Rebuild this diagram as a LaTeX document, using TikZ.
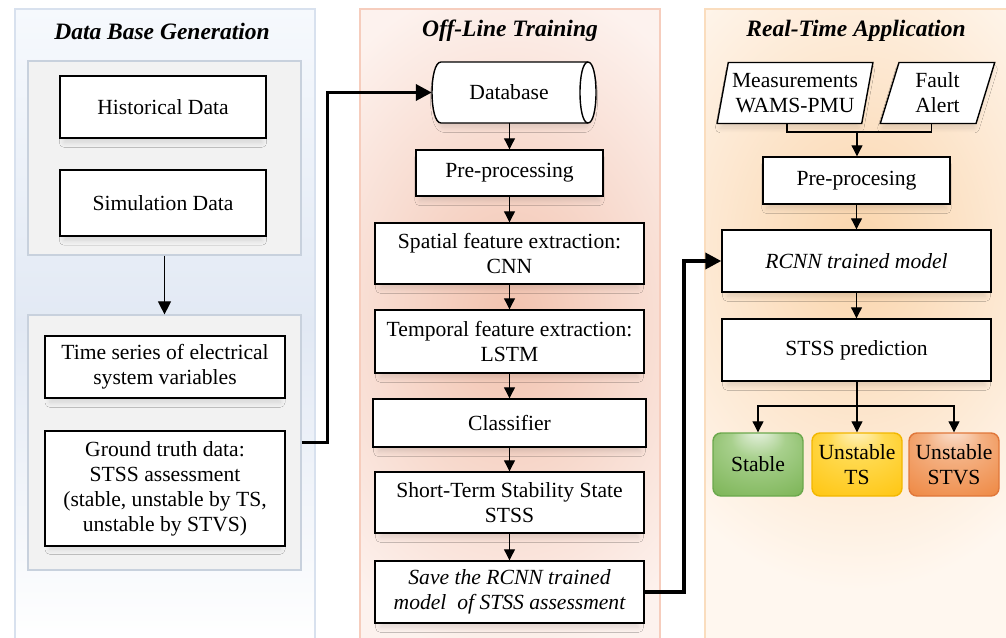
\documentclass[tikz,border=0pt]{standalone}
\usepackage{fontspec}
\setmainfont{Liberation Serif}
\usetikzlibrary{arrows.meta,shapes.geometric,shadows.blur,calc}

% panel and box colours
\definecolor{bluePanelTop}{HTML}{F6F9FD}
\definecolor{bluePanelMid}{HTML}{E2E9F4}
\definecolor{bluePanelEdge}{HTML}{D8E1EE}
\definecolor{pinkCore}{HTML}{F2C2AE}
\definecolor{pinkBase}{HTML}{FDF2EE}
\definecolor{pinkEdge}{HTML}{F6CDBD}
\definecolor{peachCore}{HTML}{FAD5AC}
\definecolor{peachBase}{HTML}{FFF7EF}
\definecolor{peachEdge}{HTML}{FADDBE}
\definecolor{grayFill}{HTML}{F2F2F2}
\definecolor{grayEdge}{HTML}{C8D1DD}
\definecolor{stableA}{HTML}{F0F6EC}
\definecolor{stableM}{HTML}{A8D08D}
\definecolor{stableB}{HTML}{70AD47}
\definecolor{stableEdge}{HTML}{6BA84C}
\definecolor{tsA}{HTML}{FFF5D0}
\definecolor{tsM}{HTML}{FFDA50}
\definecolor{tsB}{HTML}{FFC000}
\definecolor{tsEdge}{HTML}{F2B700}
\definecolor{stvsA}{HTML}{FBE5D6}
\definecolor{stvsM}{HTML}{F4B183}
\definecolor{stvsB}{HTML}{ED7D31}
\definecolor{stvsEdge}{HTML}{E0773A}

\pgfdeclareradialshading{glowstable}{\pgfpoint{0bp}{30bp}}{color(0bp)=(stableA); color(15bp)=(stableM); color(45bp)=(stableB)}
\pgfdeclareradialshading{glowts}{\pgfpoint{0bp}{30bp}}{color(0bp)=(tsA); color(15bp)=(tsM); color(45bp)=(tsB)}
\pgfdeclareradialshading{glowstvs}{\pgfpoint{0bp}{30bp}}{color(0bp)=(stvsA); color(15bp)=(stvsM); color(45bp)=(stvsB)}

\tikzset{
  bodytext/.style={font=\fontsize{21.6}{25}\selectfont, text=black, align=center},
  paneltitle/.style={font=\fontsize{23.5}{28}\selectfont\bfseries\itshape, text=black},
  softshadow/.style={blur shadow={shadow xshift=0pt, shadow yshift=-6pt, shadow scale=0.96, shadow blur radius=5pt, shadow blur steps=10, shadow opacity=12}},
  procbox/.style={bodytext, draw=black, line width=1.4pt, fill=white, inner sep=0pt, softshadow},
  groupbox/.style={draw=grayEdge, line width=1.2pt, fill=grayFill, inner sep=0pt},
  iobox/.style={bodytext, draw=black, line width=1.4pt, fill=white, inner sep=0pt,
    trapezium, trapezium left angle=75, trapezium right angle=105, trapezium stretches=true, softshadow},
  resultbox/.style={bodytext, rounded corners=8pt, line width=1.4pt, inner sep=0pt,
    minimum width=90pt, minimum height=63pt},
  flow/.style={draw=black, line width=1.1pt, -{Triangle[length=11pt,width=11pt]}},
  plainline/.style={draw=black, line width=1.1pt},
  bigflow/.style={draw=black, line width=3.6pt, -{Triangle[length=16pt,width=16pt]}},
}

\begin{document}
\begin{tikzpicture}[x=1pt, y=-1pt]
\useasboundingbox (0,0) rectangle (1006,637);
\fill[white] (0,0) rectangle (1006,637);

% ---- column backgrounds
\shade[top color=bluePanelTop, bottom color=white, middle color=bluePanelMid]
  (15,9) rectangle (315,642);
\draw[bluePanelEdge, line width=1.2pt] (15,642) -- (15,9) -- (315,9) -- (315,642);

\fill[pinkBase] (360,9) rectangle (660,642);
\begin{scope}
  \clip (360,9) rectangle (660,642);
  \shade[inner color=pinkCore, outer color=pinkBase] (510,320) ellipse [x radius=250, y radius=340];
\end{scope}
\draw[pinkEdge, line width=1.2pt] (360,642) -- (360,9) -- (660,9) -- (660,642);

\fill[peachBase] (705,9) rectangle (1012,642);
\begin{scope}
  \clip (705,9) rectangle (1012,642);
  \shade[inner color=peachCore, outer color=peachBase] (858,250) ellipse [x radius=260, y radius=340];
\end{scope}
\draw[peachEdge, line width=1.2pt] (705,642) -- (705,9) -- (1012,9);

% ---- column titles
\node[paneltitle] (t1) at (162,31) {Data Base Generation};
\node[paneltitle] (t2) at (510,31) {Off-Line Training};
\node[paneltitle] (t3) at (856,31) {Real-Time Application};

% ---- data base generation
\node[groupbox, minimum width=273pt, minimum height=194pt] (grp1) at (164.5,158) {};
\node[procbox, minimum width=206pt, minimum height=62pt] (hist) at (163,107) {Historical Data};
\node[procbox, minimum width=206pt, minimum height=66pt] (sim) at (163,203) {Simulation Data};
\node[groupbox, minimum width=273pt, minimum height=255pt] (grp2) at (164.5,442.5) {};
\node[procbox, minimum width=240pt, minimum height=62pt] (ts) at (165,367)
  {Time series of electrical\\system variables};
\node[procbox, minimum width=240pt, minimum height=115pt] (gt) at (165,488.5)
  {Ground truth data:\\STSS assessment\\(stable, unstable by TS,\\unstable by STVS)};
\draw[flow, -{Triangle[length=13pt,width=13pt]}] (grp1.south) -- (grp2.north);

% ---- off-line training
\node[minimum width=164pt, minimum height=61pt, inner sep=0pt] (db) at (514,92.5) {};
\path[fill=white, softshadow]
  (441,62) -- (588,62) .. controls (598.7,62) and (598.7,123) .. (588,123)
  -- (441,123) .. controls (429,123) and (429,62) .. (441,62) -- cycle;
\draw[black, line width=1.4pt]
  (441,62) -- (588,62) .. controls (598.7,62) and (598.7,123) .. (588,123)
  -- (441,123) .. controls (429,123) and (429,62) .. (441,62) -- cycle;
\draw[black, line width=1.4pt] (588,62) .. controls (577.3,62) and (577.3,123) .. (588,123);
\node[bodytext] (dbtext) at (509,92) {Database};

\node[procbox, minimum width=187pt, minimum height=46pt] (pre) at (509.5,173) {Pre-processing};
\node[procbox, minimum width=269pt, minimum height=61pt] (spat) at (509.5,253.5)
  {Spatial feature extraction:\\CNN};
\node[procbox, minimum width=269pt, minimum height=63pt] (temp) at (509.5,341.5)
  {Temporal feature extraction:\\LSTM};
\node[procbox, minimum width=273pt, minimum height=48pt] (cls) at (509.5,423) {Classifier};
\node[procbox, minimum width=269pt, minimum height=61pt] (stss) at (509.5,502.5)
  {Short-Term Stability State\\STSS};
\node[procbox, minimum width=269pt, minimum height=62pt, font=\fontsize{21.6}{25}\selectfont\itshape] (save) at (509.5,592)
  {Save the RCNN trained\\model~ of STSS assessment};

\draw[flow] (db.south -| pre.north) -- (pre.north);
\draw[flow] (pre.south) -- (spat.north);
\draw[flow] (spat.south) -- (temp.north);
\draw[flow] (temp.south) -- (cls.north);
\draw[flow] (cls.south) -- (stss.north);
\draw[flow] (stss.south) -- (save.north);

% ---- real-time application
\node[iobox, minimum width=156pt, minimum height=61pt] (meas) at (795,93)
  {Measurements\\WAMS-PMU};
\node[iobox, minimum width=115pt, minimum height=61pt] (fault) at (937.5,93)
  {Fault\\Alert};
\node[procbox, minimum width=187pt, minimum height=47pt] (pre2) at (856.5,180.5) {Pre-procesing};
\node[procbox, minimum width=269pt, minimum height=62pt, font=\fontsize{21.6}{25}\selectfont\itshape] (rcnn) at (856.5,261)
  {RCNN trained model};
\node[procbox, minimum width=269pt, minimum height=62pt] (pred) at (856.5,350) {STSS prediction};

\node[resultbox, draw=stableEdge, shading=glowstable] (stable) at (758,464.5) {Stable};
\node[resultbox, draw=tsEdge, shading=glowts] (uts) at (857,464.5) {Unstable\\TS};
\node[resultbox, draw=stvsEdge, shading=glowstvs] (ustvs) at (954,464.5) {Unstable\\STVS};

\coordinate (join) at (857,132);
\draw[plainline] ([xshift=-8pt]meas.south) |- (join);
\draw[plainline] ([xshift=-6pt]fault.south) |- (join);
\draw[flow] (join) -- (pre2.north -| join);
\draw[flow] (pre2.south) -- (rcnn.north);
\draw[flow] (rcnn.south) -- (pred.north);

\coordinate (split) at (857,406);
\draw[flow] (pred.south -| uts.north) -- (uts.north);
\draw[flow] (split) -| (stable.north);
\draw[flow] (split) -| (ustvs.north);

% ---- links between the columns
\draw[bigflow] ([yshift=-12pt]gt.north -| grp2.east) -- ++(26,0) |- (db.west);
\draw[bigflow] (save.east) -- ++(39,0) |- (rcnn.west);
\end{tikzpicture}
\end{document}
